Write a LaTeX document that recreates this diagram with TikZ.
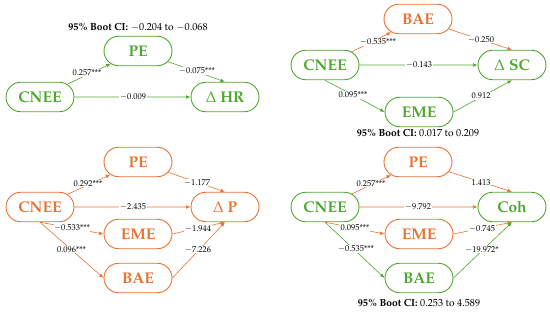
\documentclass[tikz,border=0pt]{standalone}
\usepackage[T1]{fontenc}
\usepackage{mathpazo}
\usetikzlibrary{shapes.misc,arrows.meta}
\definecolor{grn}{HTML}{4EA72E}
\definecolor{org}{HTML}{E97132}
\begin{document}
\begin{tikzpicture}[x=1pt,y=-1pt,
  box/.style={rounded rectangle, draw, line width=0.9pt, minimum width=68pt, minimum height=29.5pt, inner sep=0pt, font=\fontsize{15.5}{16}\selectfont\bfseries},
  gbox/.style={box, draw=grn, text=grn},
  obox/.style={box, draw=org, text=org},
  arr/.style={line width=0.6pt, -{Latex[length=4.5pt,width=3.6pt]}},
  garr/.style={arr, grn},
  oarr/.style={arr, org},
  lab/.style={fill=white, inner sep=0.6pt, font=\fontsize{8.4}{9}\selectfont},
  ttl/.style={inner sep=0pt, font=\fontsize{10.2}{11}\selectfont}]
\useasboundingbox (0,0) rectangle (550,313);

% ---------- top left ----------
\node[ttl] (t1) at (138,27) {\textbf{95\% Boot CI:} $-$0.204 to $-$0.068};
\node[gbox] (pe1) at (138,51) {PE};
\node[gbox] (c1) at (40,97) {CNEE};
\node[gbox] (y1) at (225,97) {$\Delta$ HR};
\draw[garr] (c1) -- (pe1);
\draw[garr] (pe1) -- (y1.north);
\draw[garr] (c1) -- (y1);
\node[lab] (l1) at (87,73) {0.257***};
\node[lab] (l2) at (197,71) {$-$0.075***};
\node[lab] (l3) at (133,97) {$-$0.009};

% ---------- top right ----------
\node[obox] (bae2) at (418,19) {BAE};
\node[gbox] (c2) at (325,65) {CNEE};
\node[gbox] (y2) at (512,65) {$\Delta$ SC};
\node[gbox] (eme2) at (419,112) {EME};
\node[ttl] (t2) at (418,133.5) {\textbf{95\% Boot CI:} 0.017 to 0.209};
\draw[oarr] (c2) -- (bae2);
\draw[oarr] (bae2) -- (y2.north);
\draw[garr] (c2) -- (y2);
\draw[garr] (c2.south) -- (eme2.west);
\draw[garr] (eme2.east) -- (y2.south);
\node[lab] (l4) at (378,42) {$-$0.535***};
\node[lab] (l5) at (481,39.5) {$-$0.250};
\node[lab] (l6) at (419,65) {$-$0.143};
\node[lab] (l7) at (353,95) {0.095***};
\node[lab] (l8) at (481,96) {0.912};

% ---------- bottom left ----------
\node[obox] (pe3) at (138,162) {PE};
\node[obox] (c3) at (40,207) {CNEE};
\node[obox] (y3) at (225,207) {$\Delta$ P};
\node[obox] (eme3) at (138,234) {EME};
\node[obox] (bae3) at (138,278) {BAE};
\draw[oarr] (c3) -- (pe3);
\draw[oarr] (pe3) -- (y3.north);
\draw[oarr] (c3) -- (y3);
\draw[oarr] (c3.south) -- (eme3.west);
\draw[oarr] (eme3.east) -- (y3.south);
\draw[oarr] (c3.south) -- (bae3.west);
\draw[oarr] (bae3.east) -- (y3.south);
\node[lab] (l9) at (88,183.5) {0.292***};
\node[lab] (l10) at (197,182.5) {$-$1.177};
\node[lab] (l11) at (133,207) {$-$2.435};
\node[lab] (l12) at (72,228) {$-$0.533***};
\node[lab] (l13) at (198,228.5) {$-$1.944};
\node[lab] (l14) at (71.5,249.5) {0.096***};
\node[lab] (l15) at (198,249.5) {$-$7.226};

% ---------- bottom right ----------
\node[obox] (pe4) at (418,162) {PE};
\node[gbox] (c4) at (325,207) {CNEE};
\node[gbox] (y4) at (512,207) {Coh};
\node[obox] (eme4) at (419,234) {EME};
\node[gbox] (bae4) at (419,278) {BAE};
\node[ttl] (t4) at (419,303.5) {\textbf{95\% Boot CI:} 0.253 to 4.589};
\draw[oarr] (c4) -- (pe4);
\draw[oarr] (pe4) -- (y4.north);
\draw[oarr] (c4) -- (y4);
\draw[oarr] (c4.south) -- (eme4.west);
\draw[oarr] (eme4.east) -- (y4.south);
\draw[garr] (c4.south) -- (bae4.west);
\draw[garr] (bae4.east) -- (y4.south);
\node[lab] (l16) at (371,183.5) {0.257***};
\node[lab] (l17) at (481,182.5) {1.413};
\node[lab] (l18) at (418,207) {$-$9.792};
\node[lab] (l19) at (355,228) {0.095***};
\node[lab] (l20) at (482,228.5) {$-$0.745};
\node[lab] (l21) at (356,249) {$-$0.535***};
\node[lab] (l22) at (482,249.5) {$-$19.972*};
\end{tikzpicture}
\end{document}
